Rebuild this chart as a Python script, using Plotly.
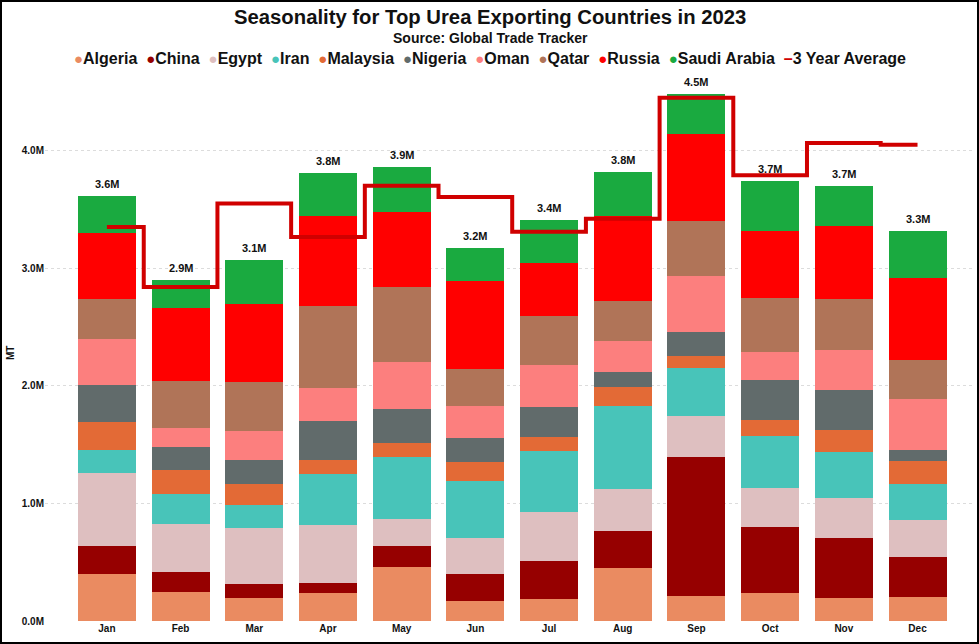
import plotly.graph_objects as go

months = ["Jan", "Feb", "Mar", "Apr", "May", "Jun", "Jul", "Aug", "Sep", "Oct", "Nov", "Dec"]

# values in million MT
algeria  = [0.396, 0.248, 0.192, 0.240, 0.455, 0.172, 0.187, 0.453, 0.210, 0.240, 0.195, 0.204]
china    = [0.240, 0.170, 0.122, 0.079, 0.183, 0.227, 0.325, 0.314, 1.188, 0.560, 0.513, 0.343]
egypt    = [0.621, 0.410, 0.480, 0.495, 0.232, 0.309, 0.417, 0.352, 0.349, 0.335, 0.337, 0.310]
iran     = [0.198, 0.248, 0.189, 0.438, 0.522, 0.481, 0.515, 0.710, 0.408, 0.438, 0.394, 0.308]
malaysia = [0.234, 0.204, 0.178, 0.118, 0.119, 0.159, 0.122, 0.157, 0.099, 0.135, 0.182, 0.194]
nigeria  = [0.317, 0.197, 0.209, 0.328, 0.291, 0.204, 0.255, 0.127, 0.200, 0.343, 0.340, 0.098]
oman     = [0.395, 0.164, 0.249, 0.279, 0.401, 0.277, 0.354, 0.269, 0.481, 0.239, 0.347, 0.433]
qatar    = [0.334, 0.401, 0.409, 0.701, 0.636, 0.312, 0.419, 0.339, 0.468, 0.456, 0.432, 0.328]
russia   = [0.564, 0.622, 0.664, 0.763, 0.638, 0.750, 0.450, 0.722, 0.740, 0.568, 0.618, 0.701]
saudi    = [0.311, 0.232, 0.376, 0.367, 0.385, 0.284, 0.363, 0.374, 0.334, 0.426, 0.337, 0.400]
three_year_avg = [3.35, 2.84, 3.55, 3.265, 3.70, 3.605, 3.31, 3.42, 4.45, 3.79, 4.065, 4.05]

tick_vals = [0, 1, 2, 3, 4]
tick_text = ["0.0M", "1.0M", "2.0M", "3.0M", "4.0M"]

series_names = ["Algeria", "China", "Egypt", "Iran", "Malaysia", "Nigeria", "Oman", "Qatar", "Russia", "Saudi Arabia"]
series_vals = [algeria, china, egypt, iran, malaysia, nigeria, oman, qatar, russia, saudi]
colors = ["#EA8B61", "#960000", "#DEBFC0", "#48C4B9", "#E36A36", "#616B6B", "#FC7F7E", "#B07458", "#FF0000", "#1AAA40"]
avg_color = "#D00000"

FONT = "Liberation Sans, Arial, sans-serif"
AX_FONT = "Liberation Sans, Arial, sans-serif"

fig = go.Figure()
for name, vals, col in zip(series_names, series_vals, colors):
    fig.add_trace(go.Bar(x=months, y=vals, name=name, marker=dict(color=col, line=dict(width=0)),
                         showlegend=False))

fig.add_trace(go.Scatter(x=months, y=three_year_avg, mode="lines", name="3 Year Average",
                         line=dict(color=avg_color, width=4, shape="hvh"), showlegend=False))

totals = [sum(v[i] for v in series_vals) for i in range(len(months))]

# legend as a single text line
parts = []
for name, col in zip(series_names, colors):
    parts.append(f"<span style='color:{col};font-size:15px'>●</span>{name}")
parts.append(f"<span style='color:{avg_color}'>–</span>3 Year Average")
legend_text = "&nbsp;&nbsp;".join(parts)

L, R, T, B = 45, 4, 80, 23
W, H = 979, 644
pw, ph = W - L - R, H - T - B

def px(x):
    return (x - L) / pw

def py(y):
    return (H - B - y) / ph

annotations = [
    dict(text="Seasonality for Top Urea Exporting Countries in 2023", xref="paper", yref="paper",
         x=px(490), y=py(17), xanchor="center", yanchor="middle", showarrow=False,
         font=dict(family=FONT, size=20.3, color="#111", weight="bold")),
    dict(text="Source: Global Trade Tracker", xref="paper", yref="paper",
         x=px(490), y=py(38), xanchor="center", yanchor="middle", showarrow=False,
         font=dict(family=FONT, size=14, color="#111", weight="bold")),
    dict(text=legend_text, xref="paper", yref="paper",
         x=px(490), y=py(59), xanchor="center", yanchor="middle", showarrow=False,
         font=dict(family=FONT, size=16, color="#111", weight="bold")),
    dict(text="MT", xref="paper", yref="paper", x=px(10), y=py(353), textangle=-90,
         xanchor="center", yanchor="middle", showarrow=False,
         font=dict(family=AX_FONT, size=10, color="#111", weight="bold")),
]
for m, t in zip(months, totals):
    annotations.append(dict(text=f"{t:.1f}M", x=m, y=t, xref="x", yref="y",
                            xanchor="center", yanchor="bottom", yshift=4, showarrow=False,
                            font=dict(family=AX_FONT, size=11, color="#111", weight="bold")))

fig.update_layout(
    width=W, height=H,
    margin=dict(l=L, r=R, t=T, b=B, pad=0),
    paper_bgcolor="white", plot_bgcolor="white",
    barmode="stack", bargap=0.213,
    showlegend=False,
    annotations=annotations,
    shapes=[dict(type="rect", xref="paper", yref="paper",
                 x0=px(1), x1=px(978), y0=py(643), y1=py(1),
                 line=dict(color="black", width=2), fillcolor="rgba(0,0,0,0)", layer="above")],
    xaxis=dict(range=[-0.84, 11.78], showgrid=False, zeroline=False, showline=False, ticks="",
               tickfont=dict(family=AX_FONT, size=10, color="#111", weight="bold")),
    yaxis=dict(range=[0, 4.6], tickvals=tick_vals, ticktext=tick_text, showgrid=True,
               gridcolor="#dcdcdc", griddash="dot", gridwidth=1, zeroline=False, showline=False,
               ticks="", tickfont=dict(family=AX_FONT, size=10, color="#111", weight="bold")),
)

fig.write_html("out.html")
